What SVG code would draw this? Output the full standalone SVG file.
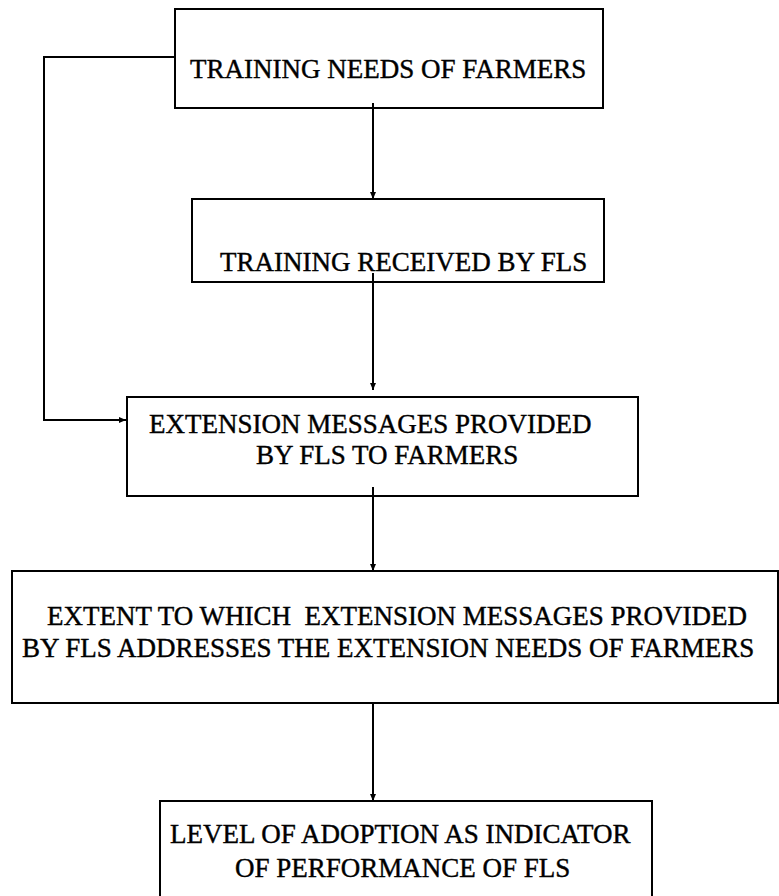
<svg xmlns="http://www.w3.org/2000/svg" width="779" height="896" viewBox="0 0 779 896">
<style>
.box{fill:#fff;stroke:#000;stroke-width:2}
.lbl{font-family:"Liberation Serif","Times New Roman",serif;font-size:27px;fill:#000;stroke:#000;stroke-width:0.4}
.conn{fill:none;stroke:#000;stroke-width:2}
</style>
<defs>
<marker id="ah" markerWidth="8" markerHeight="8" refX="7" refY="4" orient="auto" markerUnits="userSpaceOnUse">
<path d="M0,1 L7,4 L0,7 Z" fill="#000"/>
</marker>
</defs>
<rect width="779" height="896" fill="#fff"/>
<g id="n1">
<rect class="box" x="175" y="9" width="428" height="99"/>
<text class="lbl" x="190" y="78">TRAINING NEEDS OF FARMERS</text>
</g>
<g id="n2">
<rect class="box" x="192" y="199" width="412" height="83"/>
<text class="lbl" x="220" y="271">TRAINING RECEIVED BY FLS</text>
</g>
<g id="n3">
<rect class="box" x="127" y="397" width="511" height="99"/>
<text class="lbl" x="149" y="433">EXTENSION MESSAGES PROVIDED</text>
<text class="lbl" x="256" y="464">BY FLS TO FARMERS</text>
</g>
<g id="n4">
<rect class="box" x="12" y="571" width="766" height="132"/>
<text class="lbl" x="47" y="625" xml:space="preserve">EXTENT TO WHICH  EXTENSION MESSAGES PROVIDED</text>
<text class="lbl" x="22" y="657">BY FLS ADDRESSES THE EXTENSION NEEDS OF FARMERS</text>
</g>
<g id="n5">
<rect class="box" x="160" y="801" width="492" height="110"/>
<text class="lbl" x="170" y="843">LEVEL OF ADOPTION AS INDICATOR</text>
<text class="lbl" x="235" y="877">OF PERFORMANCE OF FLS</text>
</g>
<g id="connectors">
<path class="conn" d="M373,103 L373,199" marker-end="url(#ah)"/>
<path class="conn" d="M373,273 L373,390" marker-end="url(#ah)"/>
<path class="conn" d="M175,57 L44,57 L44,420 L126,420" marker-end="url(#ah)"/>
<path class="conn" d="M373,487 L373,571" marker-end="url(#ah)"/>
<path class="conn" d="M373,703 L373,801" marker-end="url(#ah)"/>
</g>
</svg>
